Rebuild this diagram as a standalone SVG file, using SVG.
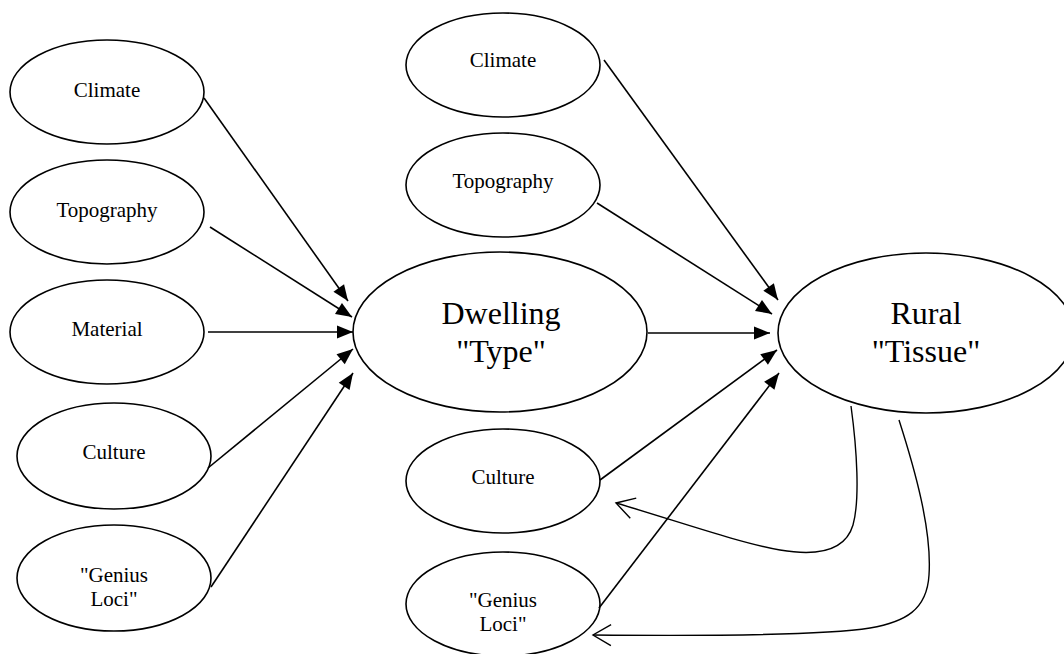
<svg xmlns="http://www.w3.org/2000/svg" width="1064" height="654" viewBox="0 0 1064 654">
<style>
.node ellipse{fill:#fff;stroke:#000;stroke-width:1.6}
.node text{font-family:"Liberation Serif","Times New Roman",serif;fill:#000;text-anchor:middle}
.sm{font-size:21px}
.lg{font-size:32px}
.conn line{stroke:#000;stroke-width:1.6;marker-end:url(#solid)}
.conn path{fill:none;stroke:#000;stroke-width:1.4;marker-end:url(#open)}
</style>
<defs>
<marker id="solid" markerUnits="userSpaceOnUse" markerWidth="17" markerHeight="14" refX="16" refY="6.5" orient="auto" overflow="visible">
<path d="M0,0 L16,6.5 L0,13 z" fill="#000"/>
</marker>
<marker id="open" markerUnits="userSpaceOnUse" markerWidth="20" markerHeight="22" refX="18" refY="10.5" orient="auto" overflow="visible">
<path d="M0,0 L18,10.5 L0,21" fill="none" stroke="#000" stroke-width="1.4"/>
</marker>
</defs>
<rect width="1064" height="654" fill="#fff"/>

<g id="l-climate" class="node"><ellipse cx="107" cy="92" rx="97" ry="52"/><text class="sm" x="107" y="97">Climate</text></g>
<g id="l-topography" class="node"><ellipse cx="107" cy="212" rx="97" ry="52"/><text class="sm" x="107" y="217">Topography</text></g>
<g id="l-material" class="node"><ellipse cx="107" cy="332" rx="97" ry="52"/><text class="sm" x="107" y="336">Material</text></g>
<g id="l-culture" class="node"><ellipse cx="114" cy="456" rx="97" ry="53"/><text class="sm" x="114" y="459">Culture</text></g>
<g id="l-genius" class="node"><ellipse cx="114" cy="578" rx="97" ry="53"/><text class="sm" x="114" y="582">"Genius</text><text class="sm" x="114" y="606">Loci"</text></g>

<g id="m-climate" class="node"><ellipse cx="503" cy="65" rx="97" ry="52"/><text class="sm" x="503" y="67">Climate</text></g>
<g id="m-topography" class="node"><ellipse cx="503" cy="185" rx="97" ry="52"/><text class="sm" x="503" y="188">Topography</text></g>
<g id="dwelling" class="node"><ellipse cx="500" cy="332" rx="147" ry="80"/><text class="lg" x="501" y="324">Dwelling</text><text class="lg" x="501" y="362">"Type"</text></g>
<g id="m-culture" class="node"><ellipse cx="503" cy="481" rx="97" ry="52"/><text class="sm" x="503" y="484">Culture</text></g>
<g id="m-genius" class="node"><ellipse cx="503" cy="604" rx="97" ry="52"/><text class="sm" x="503" y="607">"Genius</text><text class="sm" x="503" y="631">Loci"</text></g>

<g id="rural" class="node"><ellipse cx="926" cy="333" rx="148" ry="80"/><text class="lg" x="926" y="324">Rural</text><text class="lg" x="926" y="362">"Tissue"</text></g>

<g id="connectors" class="conn">
<line x1="204" y1="98" x2="348" y2="301"/>
<line x1="210" y1="227" x2="352" y2="317"/>
<line x1="208" y1="332" x2="353" y2="332"/>
<line x1="208" y1="468" x2="353" y2="349"/>
<line x1="211" y1="587" x2="353" y2="373"/>
<line x1="604" y1="60" x2="778" y2="300"/>
<line x1="597" y1="203" x2="772" y2="314"/>
<line x1="648" y1="333" x2="770" y2="333"/>
<line x1="600" y1="480" x2="777" y2="350"/>
<line x1="599" y1="608" x2="779" y2="373"/>
<path d="M851,406 C857,450 860,500 853,525 C845,552 815,556 780,550 C740,543 680,522 616,503"/>
<path d="M899,420 C915,470 932,530 929,575 C927,610 905,622 870,628 C820,636 700,636 593,635"/>
</g>
</svg>
